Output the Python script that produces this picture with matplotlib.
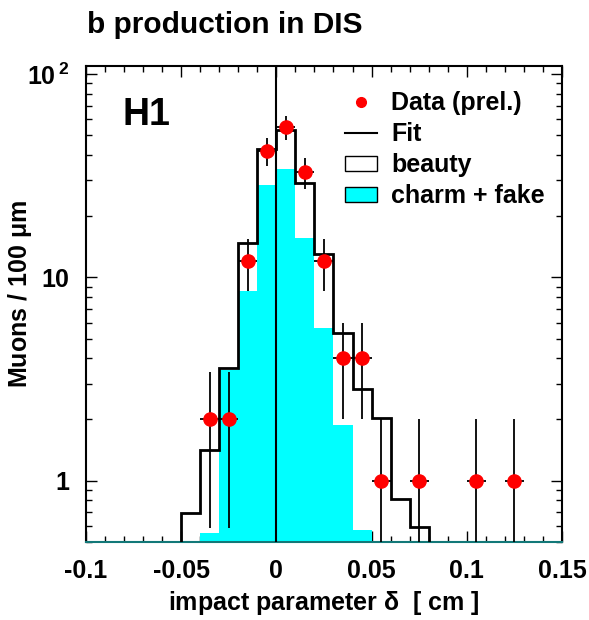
import matplotlib
matplotlib.use("Agg")
import matplotlib.pyplot as plt
from matplotlib.lines import Line2D
from matplotlib.patches import Patch
from matplotlib.ticker import FixedLocator, FixedFormatter, MultipleLocator, NullFormatter
import numpy as np

plt.rcParams['font.family'] = ['Liberation Sans', 'DejaVu Sans']
plt.rcParams['font.weight'] = 'bold'
plt.rcParams['mathtext.fontset'] = 'custom'
plt.rcParams['mathtext.rm'] = 'Liberation Sans'
plt.rcParams['mathtext.bf'] = 'Liberation Sans:bold'

# data points (muon counts per 100 um bin)
data_x = [-0.035, -0.025, -0.015, -0.005, 0.005, 0.015, 0.025, 0.035, 0.045, 0.055, 0.075, 0.105, 0.125]
data_y = [2, 2, 12, 42, 55, 33, 12, 4, 4, 1, 1, 1, 1]

# fit = beauty + charm/fake, bins from -0.05 to 0.08
fit_edges = [-0.05, -0.04, -0.03, -0.02, -0.01, 0.0, 0.01, 0.02, 0.03, 0.04, 0.05, 0.06, 0.07, 0.08]
fit_vals = [0.69, 1.42, 3.6, 14.8, 43, 53, 29, 13.0, 5.3, 2.82, 2.04, 0.815, 0.59]

# charm + fake component, bins from -0.04 to 0.05
charm_edges = [-0.04, -0.03, -0.02, -0.01, 0.0, 0.01, 0.02, 0.03, 0.04, 0.05]
charm_vals = [0.555, 3.5, 8.6, 28.4, 34, 15.6, 5.67, 1.87, 0.57]

data_y = np.array(data_y, dtype=float)
err = np.sqrt(data_y)
err_lo = np.minimum(err, data_y * 0.999)

fig = plt.figure(figsize=(5.89, 6.2), dpi=100)
ax = fig.add_axes([0.146, 0.126, 0.808, 0.768])

ax.stairs(fit_vals, fit_edges, baseline=1e-3, fill=True, color='white', zorder=1)
ax.stairs(charm_vals, charm_edges, baseline=1e-3, fill=True, color='#00ffff', zorder=2)
ax.stairs(fit_vals, fit_edges, baseline=1e-3, color='black', lw=2, zorder=3)
ax.axvline(0, color='black', lw=1.5, zorder=3)

ax.errorbar(data_x, data_y, yerr=[err_lo, err], xerr=0.005, fmt='none',
            ecolor='black', elinewidth=1.3, capsize=0, zorder=4)
ax.plot(data_x, data_y, 'o', color='red', ms=9.5, mec='red', zorder=5)

ax.set_yscale('log')
ax.set_xlim(-0.1, 0.15)
ax.set_ylim(0.5, 110)

ax.xaxis.set_major_locator(FixedLocator([-0.1, -0.05, 0, 0.05, 0.1, 0.15]))
ax.xaxis.set_major_formatter(FixedFormatter(['-0.1', '-0.05', '0', '0.05', '0.1', '0.15']))
ax.xaxis.set_minor_locator(MultipleLocator(0.01))

ax.yaxis.set_major_locator(FixedLocator([1, 10, 100]))
ax.yaxis.set_major_formatter(FixedFormatter(['1', '10', r'$\mathbf{10^{\,2}}$']))
ax.yaxis.set_minor_formatter(NullFormatter())

ax.tick_params(which='both', direction='in', top=True, right=True, labelsize=18, width=1)
ax.tick_params(which='major', length=8)
ax.tick_params(which='minor', length=4)
ax.tick_params(axis='x', pad=12)
ax.tick_params(axis='y', pad=12)

for s in ax.spines.values():
    s.set_linewidth(1.5)
ax.spines['bottom'].set_color('#127878')

ax.set_xlabel(r'impact parameter $\mathregular{\delta}$  [ cm ]', fontsize=18, fontweight='bold')
ax.xaxis.set_label_coords(0.5, -0.1)
ax.set_ylabel(r'Muons / 100 $\mathregular{\mu}$m', fontsize=18, fontweight='bold')
ax.yaxis.set_label_coords(-0.11, 0.52)

ax.text(0.076, 0.876, 'H1', transform=ax.transAxes, fontsize=27, fontweight='bold')
fig.text(0.148, 1 - 33 / 620, 'b production in DIS', fontsize=21.5, fontweight='bold')

handles = [Line2D([], [], marker='o', color='red', ls='none', ms=7),
           Line2D([], [], color='black', lw=1.5),
           Patch(facecolor='white', edgecolor='black', lw=1),
           Patch(facecolor='#00ffff', edgecolor='black', lw=1)]
labels = ['Data (prel.)', 'Fit', 'beauty', 'charm + fake']
ax.legend(handles, labels, loc='upper left', bbox_to_anchor=(0.544, 0.946),
          frameon=False, fontsize=18, borderpad=0, borderaxespad=0,
          handlelength=1.3, handleheight=0.55, handletextpad=0.55, labelspacing=0.28)

fig.savefig('out.png', dpi=100)
